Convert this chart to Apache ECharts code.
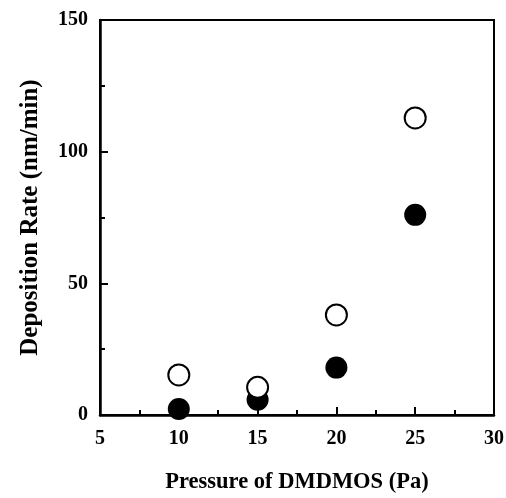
<!DOCTYPE html>
<html>
<head>
<meta charset="utf-8">
<script src="https://cdn.jsdelivr.net/npm/echarts@6/dist/echarts.min.js"></script>
<style>
  html, body { margin: 0; padding: 0; background: #fff; }
  #main { width: 506px; height: 498px; }
</style>
</head>
<body>
<div id="main"></div>
<script>
var pressure = [10, 15, 20, 25];
var openRate = [15.2, 10.5, 38, 112.8];
var filledRate = [2.3, 5.8, 18, 76];

var font = "'Liberation Serif', 'Times New Roman', serif";

function pairs(xs, ys) {
  var out = [];
  for (var i = 0; i < xs.length; i++) out.push([xs[i], ys[i]]);
  return out;
}

var chart = echarts.init(document.getElementById("main"));
chart.setOption({
  animation: false,
  backgroundColor: "#fff",
  grid: {
    left: 100,
    right: 12,
    top: 20,
    bottom: 83,
    outerBoundsMode: "none",
    show: true,
    borderColor: "#000",
    borderWidth: 2
  },
  xAxis: {
    type: "value",
    min: 5,
    max: 30,
    interval: 5,
    name: "Pressure of DMDMOS (Pa)",
    nameLocation: "middle",
    nameGap: 56,
    nameTextStyle: { fontFamily: font, fontWeight: "bold", fontSize: 22.5, color: "#000" },
    axisLine: { show: true, lineStyle: { color: "#000", width: 2.5 } },
    axisTick: { show: true, inside: true, length: 8, lineStyle: { color: "#000", width: 2 } },
    minorTick: { show: true, splitNumber: 2, length: 5, lineStyle: { color: "#000", width: 2 } },
    axisLabel: { fontFamily: font, fontWeight: "bold", fontSize: 20, color: "#000", margin: 14 },
    splitLine: { show: false }
  },
  yAxis: {
    type: "value",
    min: 0,
    max: 150,
    interval: 50,
    name: "Deposition Rate (nm/min)",
    nameLocation: "middle",
    nameGap: 57,
    nameTextStyle: { fontFamily: font, fontWeight: "bold", fontSize: 25, color: "#000" },
    axisLine: { show: true, lineStyle: { color: "#000", width: 2.5 } },
    axisTick: { show: true, inside: true, length: 8, lineStyle: { color: "#000", width: 2 } },
    minorTick: { show: true, splitNumber: 2, length: 5, lineStyle: { color: "#000", width: 2 } },
    axisLabel: { fontFamily: font, fontWeight: "bold", fontSize: 20, color: "#000", margin: 12 },
    splitLine: { show: false }
  },
  series: [
    {
      type: "scatter",
      data: pairs(pressure, filledRate),
      symbol: "circle",
      symbolSize: 22,
      itemStyle: { color: "#000", opacity: 1 }
    },
    {
      type: "scatter",
      data: pairs(pressure, openRate),
      symbol: "circle",
      symbolSize: 21,
      itemStyle: { color: "#fff", borderColor: "#000", borderWidth: 2, opacity: 1 }
    }
  ]
});
</script>
</body>
</html>
